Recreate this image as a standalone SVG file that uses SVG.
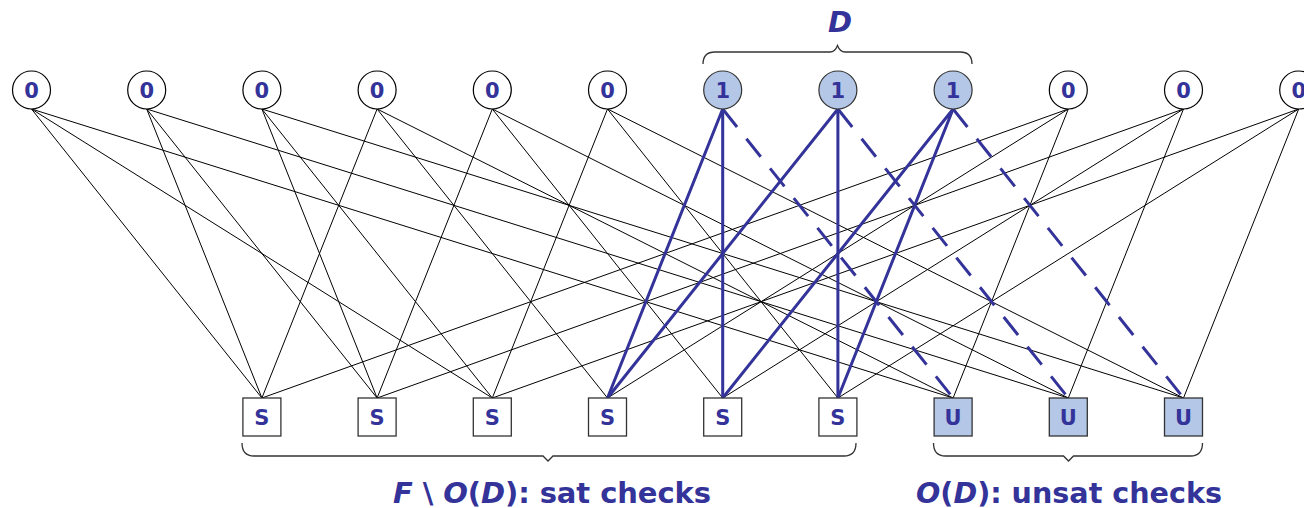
<svg xmlns="http://www.w3.org/2000/svg" width="1304" height="508" viewBox="0 0 1304 508">
<style>
.e{stroke:#000;stroke-width:1;fill:none}
.b{stroke:#333399;stroke-width:3;fill:none}
.d{stroke:#333399;stroke-width:3;fill:none;stroke-dasharray:23 15}
.v{fill:#fff;stroke:#000;stroke-width:1.2}
.v1{fill:#b4c7e7;stroke:#333;stroke-width:1.2}
.c{fill:#fff;stroke:#333;stroke-width:1.3}
.c1{fill:#b4c7e7;stroke:#333;stroke-width:1.3}
.t{font-family:"DejaVu Sans","Verdana",sans-serif;font-weight:bold;font-size:21px;fill:#333399;text-anchor:middle}
.lbl{font-family:"DejaVu Sans","Verdana",sans-serif;font-weight:bold;font-size:29px;fill:#333399}
.br{stroke:#333;stroke-width:1.3;fill:none}
.it{font-style:italic}
</style>
<g id="connectors">
<path class="e" d="M31.5,109L261.9,398M31.5,109L492.3,398M31.5,109L953.1,398"/>
<path class="e" d="M146.7,109L261.9,398M146.7,109L377.1,398M146.7,109L1068.3,398"/>
<path class="e" d="M261.9,109L377.1,398M261.9,109L492.3,398M261.9,109L1183.5,398"/>
<path class="e" d="M377.1,109L261.9,398M377.1,109L607.5,398M377.1,109L953.1,398"/>
<path class="e" d="M492.3,109L377.1,398M492.3,109L722.7,398M492.3,109L1068.3,398"/>
<path class="e" d="M607.5,109L492.3,398M607.5,109L837.9,398M607.5,109L1183.5,398"/>
<path class="e" d="M1068.3,109L261.9,398M1068.3,109L607.5,398M1068.3,109L953.1,398"/>
<path class="e" d="M1183.5,109L377.1,398M1183.5,109L722.7,398M1183.5,109L1068.3,398"/>
<path class="e" d="M1298.7,109L492.3,398M1298.7,109L837.9,398M1298.7,109L1183.5,398"/>
<path class="b" d="M722.7,109L607.5,398M722.7,109L722.7,398"/>
<path class="b" d="M837.9,109L607.5,398M837.9,109L837.9,398"/>
<path class="b" d="M953.1,109L722.7,398M953.1,109L837.9,398"/>
<path class="d" d="M722.7,109L953.1,398"/>
<path class="d" d="M837.9,109L1068.3,398"/>
<path class="d" d="M953.1,109L1183.5,398"/>
</g>
<g id="v0"><circle class="v" cx="31.5" cy="90" r="19"/><text class="t" x="31.5" y="97.5">0</text></g>
<g id="v1"><circle class="v" cx="146.7" cy="90" r="19"/><text class="t" x="146.7" y="97.5">0</text></g>
<g id="v2"><circle class="v" cx="261.9" cy="90" r="19"/><text class="t" x="261.9" y="97.5">0</text></g>
<g id="v3"><circle class="v" cx="377.1" cy="90" r="19"/><text class="t" x="377.1" y="97.5">0</text></g>
<g id="v4"><circle class="v" cx="492.3" cy="90" r="19"/><text class="t" x="492.3" y="97.5">0</text></g>
<g id="v5"><circle class="v" cx="607.5" cy="90" r="19"/><text class="t" x="607.5" y="97.5">0</text></g>
<g id="v6"><circle class="v1" cx="722.7" cy="90" r="19"/><text class="t" x="722.7" y="97.5">1</text></g>
<g id="v7"><circle class="v1" cx="837.9" cy="90" r="19"/><text class="t" x="837.9" y="97.5">1</text></g>
<g id="v8"><circle class="v1" cx="953.1" cy="90" r="19"/><text class="t" x="953.1" y="97.5">1</text></g>
<g id="v9"><circle class="v" cx="1068.3" cy="90" r="19"/><text class="t" x="1068.3" y="97.5">0</text></g>
<g id="v10"><circle class="v" cx="1183.5" cy="90" r="19"/><text class="t" x="1183.5" y="97.5">0</text></g>
<g id="v11"><circle class="v" cx="1298.7" cy="90" r="19"/><text class="t" x="1298.7" y="97.5">0</text></g>
<g id="c0"><rect class="c" x="242.9" y="398" width="38" height="38"/><text class="t" x="261.9" y="424.5">S</text></g>
<g id="c1"><rect class="c" x="358.1" y="398" width="38" height="38"/><text class="t" x="377.1" y="424.5">S</text></g>
<g id="c2"><rect class="c" x="473.3" y="398" width="38" height="38"/><text class="t" x="492.3" y="424.5">S</text></g>
<g id="c3"><rect class="c" x="588.5" y="398" width="38" height="38"/><text class="t" x="607.5" y="424.5">S</text></g>
<g id="c4"><rect class="c" x="703.7" y="398" width="38" height="38"/><text class="t" x="722.7" y="424.5">S</text></g>
<g id="c5"><rect class="c" x="818.9" y="398" width="38" height="38"/><text class="t" x="837.9" y="424.5">S</text></g>
<g id="c6"><rect class="c1" x="934.1" y="398" width="38" height="38"/><text class="t" x="953.1" y="424.5">U</text></g>
<g id="c7"><rect class="c1" x="1049.3" y="398" width="38" height="38"/><text class="t" x="1068.3" y="424.5">U</text></g>
<g id="c8"><rect class="c1" x="1164.5" y="398" width="38" height="38"/><text class="t" x="1183.5" y="424.5">U</text></g>
<g id="brace-d">
<path class="br" d="M703,64Q703,52 715,52L830,52Q835,52 837.5,45.5Q840,52 845,52L960,52Q972,52 972,64"/>
<text class="lbl it" x="840" y="32" text-anchor="middle" font-size="31">D</text>
</g>
<g id="brace-sat">
<path class="br" d="M242,443Q242,456 254,456L543,456L548,461L553,456L844,456Q856,456 856,443"/>
<text class="lbl" x="393" y="503" textLength="318" lengthAdjust="spacing"><tspan class="it">F</tspan> \ <tspan class="it">O</tspan>(<tspan class="it">D</tspan>): sat checks</text>
</g>
<g id="brace-unsat">
<path class="br" d="M933.5,443Q933.5,456 945.5,456L1063.5,456L1068.5,461L1073.5,456L1190.5,456Q1202.5,456 1202.5,443"/>
<text class="lbl" x="916" y="503" textLength="306" lengthAdjust="spacingAndGlyphs"><tspan class="it">O</tspan>(<tspan class="it">D</tspan>): unsat checks</text>
</g>
</svg>
